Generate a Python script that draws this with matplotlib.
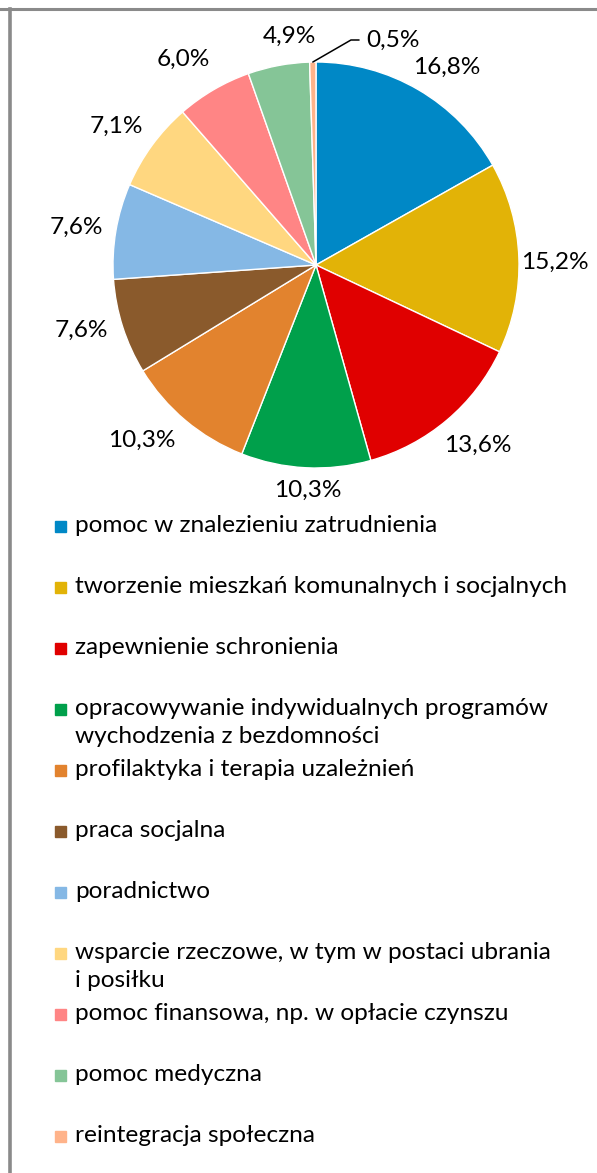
import numpy as np
import matplotlib.pyplot as plt
from matplotlib.patches import Rectangle
from matplotlib.lines import Line2D

# Dane
kategorie = [
    "pomoc w znalezieniu zatrudnienia",
    "tworzenie mieszkań komunalnych i socjalnych",
    "zapewnienie schronienia",
    "opracowywanie indywidualnych programów\nwychodzenia z bezdomności",
    "profilaktyka i terapia uzależnień",
    "praca socjalna",
    "poradnictwo",
    "wsparcie rzeczowe, w tym w postaci ubrania\ni posiłku",
    "pomoc finansowa, np. w opłacie czynszu",
    "pomoc medyczna",
    "reintegracja społeczna",
]
udzialy = [16.8, 15.2, 13.6, 10.3, 10.3, 7.6, 7.6, 7.1, 6.0, 4.9, 0.5]
kolory = ["#0088C6", "#E2B307", "#E00000", "#00A04B", "#E2832E", "#8A5A2C",
          "#85B8E5", "#FFD780", "#FF8585", "#85C597", "#FFB38A"]
etykiety = [f"{v:.1f}%".replace(".", ",") for v in udzialy]

W, H = 597, 1173
fig = plt.figure(figsize=(W / 100, H / 100), dpi=100)
plt.rcParams['font.family'] = ['Lato', 'DejaVu Sans']
FS = 17.6

# ramka (lewa i górna krawędź)
fig.add_artist(Line2D([9.5 / W, 9.5 / W], [0, 1 - 8.5 / H], transform=fig.transFigure,
                      color="#8a8a8a", lw=2.6))
fig.add_artist(Line2D([0, 1], [1 - 8.5 / H, 1 - 8.5 / H], transform=fig.transFigure,
                      color="#8a8a8a", lw=2.2))

# wykres kołowy
cx, cy, r = 316, 265, 203
ax = fig.add_axes([(cx - r) / W, (H - cy - r) / H, 2 * r / W, 2 * r / H])
wedges, _ = ax.pie(udzialy, colors=kolory, startangle=90, counterclock=False,
                   wedgeprops=dict(edgecolor="white", linewidth=1.0))
ax.set_xlim(-1, 1)
ax.set_ylim(-1, 1)
ax.set_aspect("equal")
ax.axis("off")

# położenie etykiet: odległość od środka i przesunięcie kąta
odl = [1.167, 1.177, 1.193, 1.109, 1.219, 1.198, 1.196, 1.197, 1.206, 1.132]
przes = [-3.1, -1.4, 1.7, 0.7, -4.9, -2.2, 0.8, 1.2, 2.6, -4.0]
for w, lab, d, p in zip(wedges[:-1], etykiety[:-1], odl, przes):
    kat = np.deg2rad((w.theta1 + w.theta2) / 2 + p)
    ax.text(d * np.cos(kat), d * np.sin(kat), lab, ha="center", va="center",
            fontsize=FS, clip_on=False)

# ostatnia etykieta z linią odniesienia
w = wedges[-1]
kat = np.deg2rad((w.theta1 + w.theta2) / 2)
ax.annotate(etykiety[-1], xy=(np.cos(kat), np.sin(kat)),
            xytext=(50 / r, (cy - 40) / r), ha="left", va="center",
            fontsize=FS, annotation_clip=False,
            arrowprops=dict(arrowstyle="-", color="black", lw=1.1,
                            connectionstyle="angle,angleA=0,angleB=30,rad=0",
                            shrinkA=3, shrinkB=0))

# legenda
y0, dy = 526, 61
for i, (kat_txt, kol) in enumerate(zip(kategorie, kolory)):
    y = y0 + i * dy
    fig.add_artist(Rectangle((55 / W, (H - y - 5.5) / H), 11 / W, 11 / H,
                             transform=fig.transFigure, color=kol))
    fig.text(75 / W, (H - y + 11) / H, kat_txt, ha="left", va="top",
             fontsize=FS, linespacing=1.4)

fig.savefig("out.png", dpi=100)
